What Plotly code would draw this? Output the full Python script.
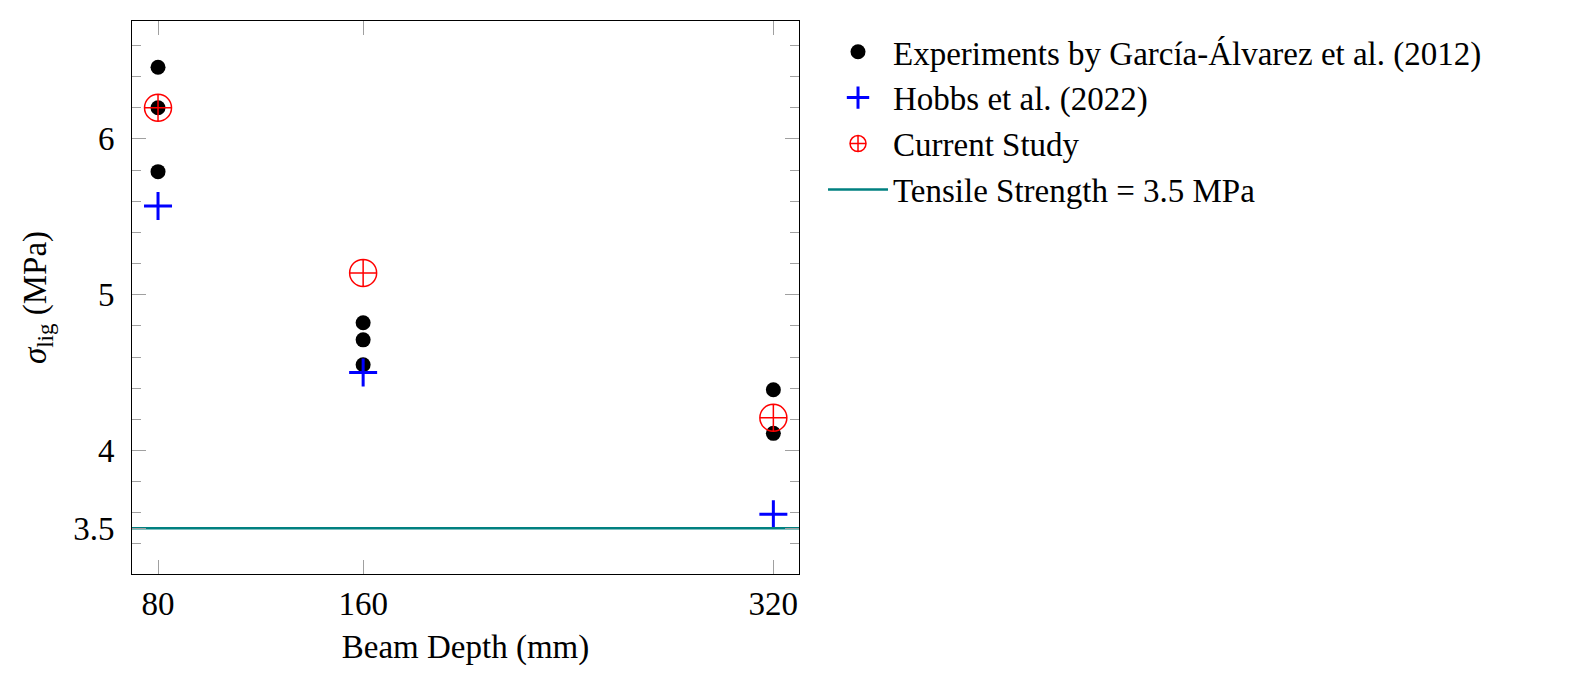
import plotly.graph_objects as go

# beam depth (mm) and ligament stress (MPa)
exp_x = [80, 80, 80, 160, 160, 160, 320, 320]
exp_y = [6.46, 6.20, 5.79, 4.82, 4.71, 4.55, 4.39, 4.11]

hobbs_x = [80, 160, 320]
hobbs_y = [5.57, 4.50, 3.59]

study_x = [80, 160, 320]
study_y = [6.20, 5.14, 4.21]

tensile_strength = 3.5

x_ticks = [80, 160, 320]
y_ticks = [3.5, 4, 5, 6]
y_minor = [3.4, 3.6, 3.8, 4.2, 4.4, 4.6, 4.8, 5.2, 5.4, 5.6, 5.8, 6.2, 6.4, 6.6]

x_range = [69.85, 330]
y_range = [3.207, 6.757]

FONT = "Liberation Serif"
FS = 33

fig = go.Figure()

fig.add_trace(go.Scatter(
    x=exp_x, y=exp_y, mode="markers",
    name="Experiments by García-Álvarez et al. (2012)",
    marker=dict(symbol="circle", size=15, color="black"),
))
fig.add_trace(go.Scatter(
    x=hobbs_x, y=hobbs_y, mode="markers",
    name="Hobbs et al. (2022)",
    marker=dict(symbol="cross-thin-open", size=20, color="blue",
                line=dict(color="blue", width=3)),
))
fig.add_trace(go.Scatter(
    x=study_x, y=study_y, mode="markers",
    name="Current Study",
    marker=dict(symbol="circle-cross-open", size=27, color="red",
                line=dict(color="red", width=1.5)),
))
fig.add_trace(go.Scatter(
    x=x_range, y=[tensile_strength, tensile_strength], mode="lines",
    name="Tensile Strength = 3.5 MPa",
    line=dict(color="#008080", width=2.5),
))

axis_common = dict(
    showgrid=False, zeroline=False,
    showline=True, linecolor="black", linewidth=1, mirror="allticks",
    ticks="inside", ticklen=14, tickwidth=1, tickcolor="#a0a0a0",
    tickfont=dict(family=FONT, size=FS, color="black"),
)

fig.update_xaxes(
    range=x_range, tickmode="array", tickvals=x_ticks,
    ticklabelstandoff=0,
    title=dict(text="Beam Depth (mm)", font=dict(family=FONT, size=FS, color="black"), standoff=14),
    **axis_common,
)
fig.update_yaxes(
    range=y_range, tickmode="array", tickvals=y_ticks,
    ticklabelstandoff=10,
    minor=dict(tickmode="array", tickvals=y_minor, ticks="inside", ticklen=9,
               tickwidth=1, tickcolor="#a0a0a0"),
    title=dict(text="<i>σ</i><sub>lig</sub> (MPa)", font=dict(family=FONT, size=FS, color="black"), standoff=16),
    **axis_common,
)

fig.update_layout(
    width=1578, height=686,
    template="plotly_white",
    plot_bgcolor="white", paper_bgcolor="white",
    margin=dict(l=124, r=787, t=13, b=120),
    font=dict(family=FONT, size=FS, color="black"),
    legend=dict(
        x=1.036, y=0.995, xanchor="left", yanchor="top",
        font=dict(family=FONT, size=FS, color="black"),
        bgcolor="rgba(0,0,0,0)", tracegroupgap=0, itemwidth=60,
    ),
    showlegend=True,
)

fig.write_html("out.html")
